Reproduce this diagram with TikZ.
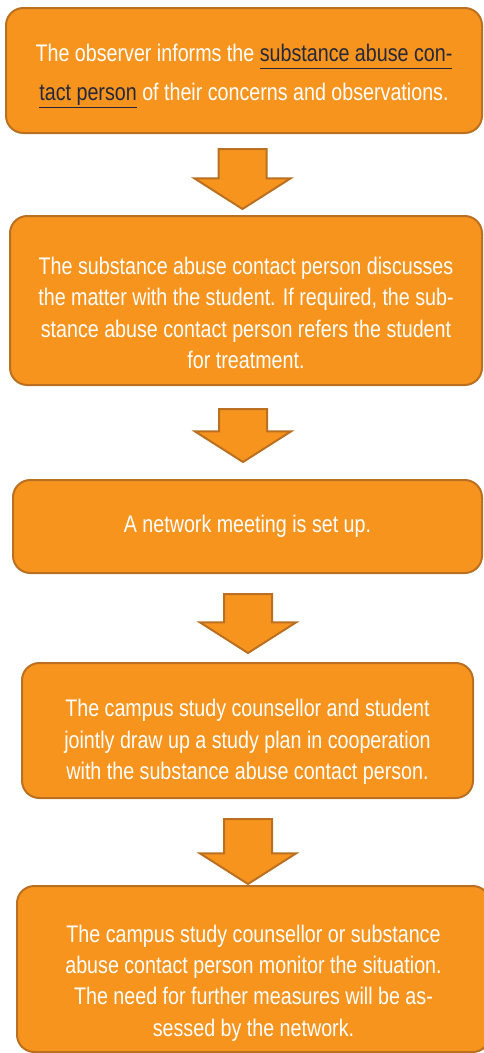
\documentclass[tikz,border=0pt]{standalone}
\usepackage{fontspec}
\setmainfont{Liberation Sans}
\newfontfamily\boxfont[FakeStretch=0.82]{Liberation Sans}
\usetikzlibrary{shapes.arrows}
\definecolor{stepfill}{RGB}{247,148,30}
\definecolor{stepedge}{RGB}{186,112,32}
\definecolor{linkdark}{RGB}{38,40,58}
\newcommand{\pxu}{0.75pt}
\newcommand{\linkul}[1]{\textcolor{linkdark}{\underline{#1\vphantom{p}}}}
\newcommand{\toppad}[1]{\rule{0pt}{#1}}

\begin{document}
\begin{tikzpicture}[x=0.75pt,y=-0.75pt,
    stepbox/.style={draw=stepedge,fill=stepfill,line width=1.5pt,rounded corners=13pt,
      text=white,align=center,inner sep=0pt,
      font=\boxfont\fontsize{18}{23.5}\selectfont},
    downarrow/.style={draw=stepedge,fill=stepfill,line width=1.5pt,single arrow,
      shape border rotate=270,minimum width=94*\pxu,single arrow head extend=24*\pxu,
      single arrow tip angle=115,inner xsep=23*\pxu,inner ysep=0pt,anchor=tail}]
  \useasboundingbox (0,0) rectangle (483,1053);

  % steps
  \node[stepbox,minimum width=476*\pxu,minimum height=125*\pxu] (S1) at (244,70.5)
    {\toppad{21.2pt}The observer informs the \linkul{substance abuse con-}\\[5.75pt]
     \linkul{tact person} of their concerns and observations.};
  \node[stepbox,minimum width=472*\pxu,minimum height=169*\pxu] (S2) at (246,300.5)
    {\toppad{31.7pt}The substance abuse contact person discusses\\
     the matter with the student. If required, the sub-\\
     stance abuse contact person refers the student\\
     for treatment.};
  \node[stepbox,minimum width=469*\pxu,minimum height=93*\pxu] (S3) at (247.5,526.5)
    {A network meeting is set up.};
  \node[stepbox,minimum width=451*\pxu,minimum height=135*\pxu] (S4) at (247.5,730.5)
    {\toppad{30.2pt}The campus study counsellor and student\\
     jointly draw up a study plan in cooperation\\
     with the substance abuse contact person.};
  \node[stepbox,minimum width=473*\pxu,minimum height=166*\pxu] (S5) at (253.5,969)
    {\toppad{33.9pt}The campus study counsellor or substance\\
     abuse contact person monitor the situation.\\
     The need for further measures will be as-\\
     sessed by the network.};

  % arrows between steps
  \node[downarrow,minimum height=60*\pxu] (A1) at (242.5,148) {};
  \node[downarrow,minimum height=53*\pxu] (A2) at (243,408) {};
  \node[downarrow,minimum height=59*\pxu] (A3) at (248,593) {};
  \node[downarrow,minimum height=65*\pxu] (A4) at (248,818) {};
\end{tikzpicture}
\end{document}
